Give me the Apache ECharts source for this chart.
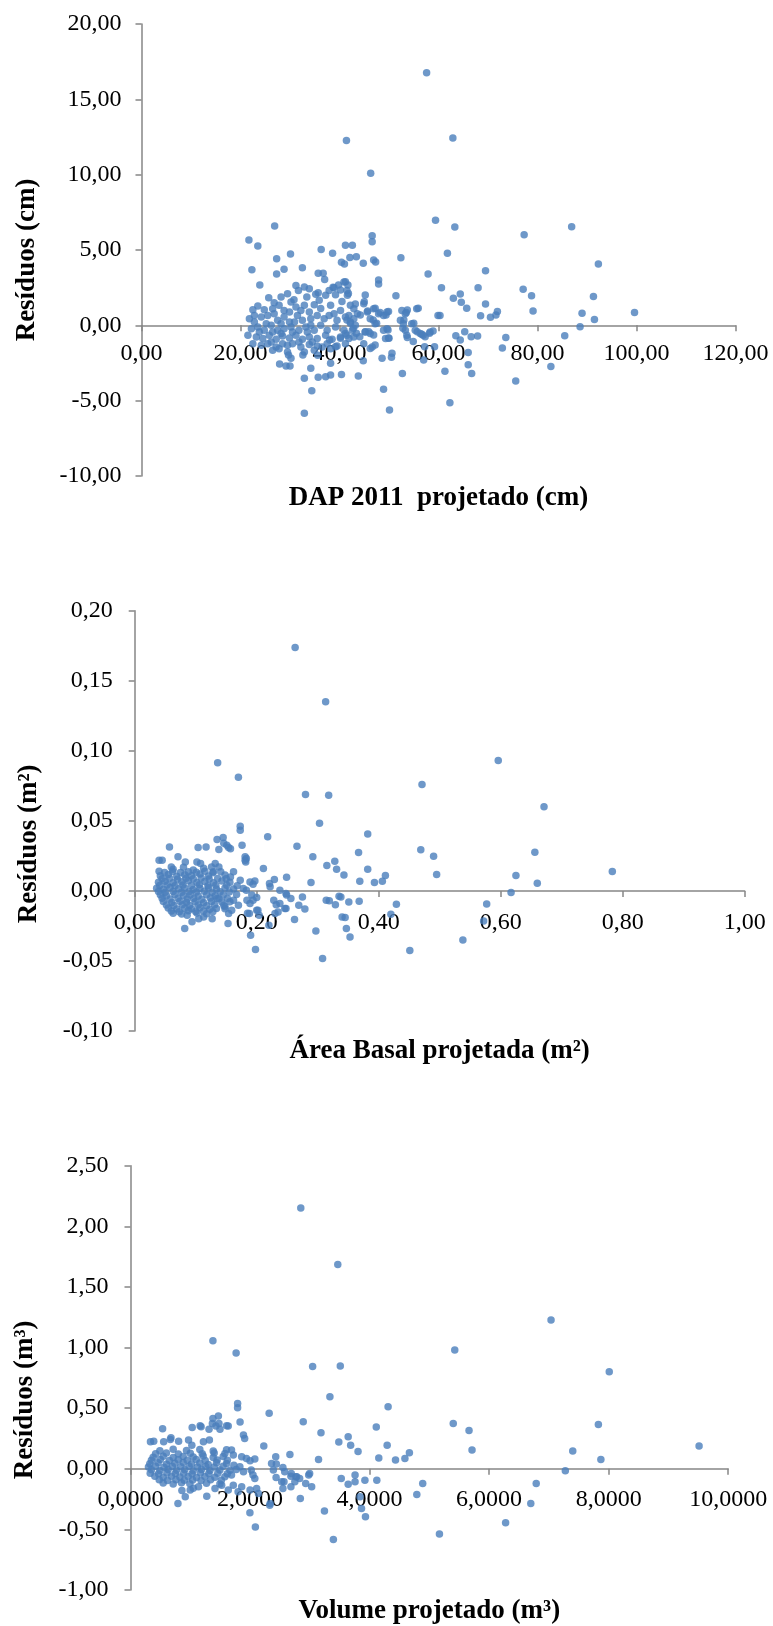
<!DOCTYPE html>
<html>
<head>
<meta charset="utf-8">
<script src="https://cdn.jsdelivr.net/npm/echarts@6.0.0/dist/echarts.min.js"></script>
<style>
  html, body { margin: 0; padding: 0; background: #fff; }
  #chart { width: 773px; height: 1626px; }
</style>
</head>
<body>
<div id="chart"></div>
<script>
// DAP 2011 projetado (cm) x resíduo (cm)
const dapPoints = [
  [57.6,16.77],[41.4,12.26],[62.9,12.43],[46.3,10.09],[59.4,6.97],[63.3,6.53],[26.9,6.59],[21.7,5.66],[77.3,6.02],[86.9,6.55],
  [23.5,5.27],[46.6,5.95],[46.6,5.55],[41.2,5.31],[42.6,5.31],[36.3,5.04],[38.6,4.78],[61.8,4.78],[52.4,4.49],[42.1,4.51],
  [43.4,4.56],[27.3,4.42],[30.1,4.73],[46.9,4.34],[47.3,4.20],[44.8,4.12],[40.4,4.18],[41.0,4.07],[92.3,4.07],[22.3,3.69],
  [28.8,3.72],[32.5,3.83],[27.3,3.41],[35.7,3.45],[36.7,3.45],[57.9,3.41],[69.5,3.63],[47.9,3.01],[47.9,2.74],[23.9,2.68],
  [60.6,2.50],[68.0,2.50],[77.1,2.39],[64.4,2.08],[63.0,1.79],[64.6,1.53],[65.7,1.13],[69.5,1.42],[78.8,1.97],[91.3,1.92],
  [79.1,0.95],[89.0,0.80],[99.6,0.86],[91.5,0.38],[88.6,-0.09],[85.5,-0.69],[82.7,-2.74],[75.6,-3.69],[73.6,-0.80],[72.9,-1.50],
  [71.9,0.91],[70.5,0.53],[71.6,0.69],[68.5,0.64],[67.9,-0.71],[66.6,-0.75],[65.3,-0.42],[64.4,-0.97],[63.5,-0.69],[66.0,-1.81],
  [66.0,-2.61],[66.7,-3.19],[61.3,-3.05],[62.3,-5.13],[60.3,0.66],[55.9,1.13],[58.9,-0.38],[58.2,-0.53],[57.3,-0.75],[56.6,-0.60],
  [55.7,-0.42],[55.0,0.13],[53.0,0.35],[53.5,0.86],[53.7,1.02],[52.8,-0.20],[53.7,-0.80],[54.9,-1.08],[57.2,-1.42],[59.2,-1.42],
  [57.0,-2.30],[52.7,-3.19],[50.1,-5.62],[48.9,-4.25],[48.6,-2.19],[50.6,-1.86],[50.5,-2.12],[50.0,-0.86],[49.8,-0.31],[49.4,0.69],
  [49.9,0.91],[51.4,1.97],[48.2,0.86],[47.2,1.13],[45.7,0.95],[45.2,2.01],[45.0,1.57],[46.8,0.35],[46.9,-0.64],[45.9,-0.42],
  [45.2,-0.42],[47.2,-1.31],[46.2,-1.53],[44.8,-2.35],[43.8,-3.36],[47.5,0.13],[44.1,-0.75],[43.4,-0.53],[44.2,0.69],[43.2,1.42],
  [41.8,2.12],[41.2,2.90],[41.7,2.68],[39.8,2.68],[38.7,2.52],[40.2,2.35],[41.5,0.35],[42.2,0.13],[42.8,-0.20],[40.4,-3.27],
  [38.2,-3.30],[38.2,-2.52],[37.2,-3.41],[35.7,-3.45],[34.4,-4.34],[32.9,-5.84],[32.9,-3.52],[34.2,-2.85],[30.0,-2.70],[29.2,-2.70],
  [27.9,-2.57],[30.2,-2.19],[29.7,-1.97],[32.6,-1.97],[35.6,-1.99],[39.2,-1.42],[40.2,-0.86],[38.0,-0.97],
  [25.7,1.83],[29.5,2.10],[31.2,2.65],[32.9,2.54],[33.9,2.43],[31.7,2.32],[35.2,2.06],[35.7,2.17],[38.9,2.50],[39.2,2.03],
  [40.9,2.87],[41.5,2.32],[40.5,1.59],[37.0,3.05],[22.5,1.04],[23.5,1.28],[24.8,1.04],[26.8,1.50],[27.8,1.33],[28.8,0.99],
  [30.8,1.70],[31.2,1.22],[32.9,1.33],[33.9,0.88],[34.9,1.37],[36.2,1.11],[38.2,1.33],[38.9,0.77],[40.2,0.99],[21.8,0.44],
  [22.8,0.22],[24.2,0.55],[25.5,0.66],[26.8,0.77],[27.5,0.33],[28.8,0.55],[29.9,0.22],[31.5,0.66],[32.5,0.33],[34.2,0.44],
  [35.5,0.66],[36.9,0.44],[37.9,0.66],[39.5,0.33],[41.2,0.55],[22.2,-0.22],[23.5,-0.11],[24.8,-0.33],[26.2,0.00],[27.5,-0.33],
  [28.8,-0.22],[30.2,-0.11],[31.8,-0.33],[33.2,-0.11],[34.9,-0.33],[36.2,0.00],[37.5,-0.33],[39.2,-0.11],[40.9,-0.33],[21.5,-0.66],
  [23.2,-0.77],[24.5,-0.88],[25.8,-0.66],[27.2,-0.93],[28.5,-0.71],[29.9,-0.84],[31.2,-0.66],[32.5,-0.93],[33.9,-0.77],[35.5,-0.88],
  [37.2,-0.66],[38.5,-0.93],[40.2,-0.77],[41.5,-0.66],[22.5,-1.22],[24.2,-1.33],[25.5,-1.22],[27.2,-1.44],[28.5,-1.22],[30.5,-1.22],
  [32.2,-1.44],[33.9,-1.28],[35.5,-1.37],[37.5,-1.22],[39.5,-1.37],[41.2,-1.22],[26.5,-1.66],[27.8,-1.55],[29.5,-1.77],[32.9,-1.77],
  [34.9,-1.66],[38.2,-1.55],[23.8,-0.44],[26.5,-0.44],[28.2,-0.55],[30.5,-0.44],[25.2,0.11],[28.2,0.11],[30.9,0.22],[33.5,-0.44],
  [34.2,0.00],[22.8,0.66],[26.2,-1.10],[29.5,-1.33],[31.8,-1.10],[34.5,-1.10],[36.5,-1.44],[26.5,1.10],[29.9,0.88],[32.2,0.99],
  [35.9,1.66],[37.2,1.99],[33.4,1.88],[30.2,1.55],[28.2,1.88],[37.9,2.32],
  [41.6,1.99],[42.2,1.33],[42.9,1.10],[43.6,0.77],[41.9,0.66],[42.9,0.44],[42.2,0.22],[43.2,0.00],[42.6,-0.33],[41.2,-0.55],
  [41.9,-0.88],[42.9,-0.77],[44.9,1.44],[45.6,0.88],[46.9,1.10],[47.9,0.77],[48.9,0.66],[49.6,0.88],[46.2,0.44],[47.2,0.11],
  [45.2,-0.44],[46.2,-0.55],[44.9,-1.22],[46.6,-1.44],[48.9,-0.33],[49.6,-0.22],[49.3,-0.88],[49.9,-0.84],[52.6,0.99],[53.3,0.77],
  [52.3,0.33],[52.9,0.11],[54.6,0.11],[53.3,-0.33],[53.6,-0.66],[55.3,-0.33],[56.3,-0.55],[56.9,-0.66],[58.3,-0.44],[55.6,1.10],
  [59.9,0.66]
];

// Área basal projetada (m²) x resíduo (m²)
const areaPoints = [
  [0.263,0.1738],[0.313,0.135],[0.136,0.0914],[0.596,0.0931],[0.170,0.0812],[0.471,0.0760],[0.280,0.0688],[0.318,0.0683],[0.671,0.0600],[0.303,0.0483],
  [0.173,0.0462],[0.173,0.0433],[0.382,0.0407],[0.218,0.0386],[0.145,0.0381],[0.135,0.0367],[0.176,0.0326],[0.266,0.0319],[0.151,0.0326],[0.469,0.0293],
  [0.367,0.0274],[0.656,0.0276],[0.292,0.0243],[0.490,0.0248],[0.328,0.0212],[0.315,0.0181],[0.331,0.0155],[0.382,0.0155],[0.343,0.0114],[0.495,0.0117],
  [0.411,0.0110],[0.625,0.0110],[0.783,0.0138],[0.369,0.0069],[0.393,0.0060],[0.406,0.0069],[0.660,0.0055],[0.289,0.0060],[0.617,-0.0012],[0.577,-0.0093],
  [0.572,-0.0214],[0.429,-0.0095],[0.420,-0.0167],[0.319,-0.0071],[0.338,-0.0043],[0.351,-0.0079],[0.368,-0.0074],[0.329,-0.0098],[0.345,-0.0190],[0.347,-0.0269],
  [0.353,-0.0329],[0.538,-0.0350],[0.451,-0.0426],[0.308,-0.0483],[0.297,-0.0286],[0.262,-0.0205],[0.198,-0.0419],[0.190,-0.0317],[0.279,-0.0129],[0.269,-0.0102],
  [0.275,-0.0043],[0.256,-0.0055],[0.248,-0.0019],[0.249,0.0098],[0.229,0.0081],[0.211,0.0160],[0.222,0.0029],[0.238,0.0005],[0.228,-0.0067],[0.238,-0.0090],
  [0.248,-0.0126],[0.235,-0.0150],[0.200,-0.0138],[0.204,-0.0174],[0.188,-0.0162],[0.183,0.0231],[0.182,0.0207],
  [0.221,0.0052],[0.189,0.0064],[0.197,0.0071],[0.194,0.0048],[0.183,0.0005],[0.249,-0.0030],[0.314,-0.0067],[0.335,-0.0038],[0.340,-0.0186],[0.192,-0.0030],
  [0.194,-0.0067],[0.200,-0.0048],[0.189,-0.0090],[0.202,-0.0138],[0.185,-0.0160],[0.232,-0.0098],[0.246,-0.0126],[0.230,-0.0162],[0.220,-0.0245],[0.181,0.0243],
  [0.181,0.0219],
  [0.057,0.0314],[0.040,0.0219],[0.045,0.0219],[0.071,0.0243],[0.104,0.0310],[0.117,0.0314],[0.138,0.0295],[0.146,0.0340],[0.154,0.0310],[0.157,0.0300],
  [0.083,0.0207],[0.102,0.0207],[0.108,0.0195],[0.132,0.0195],[0.138,0.0170],[0.129,0.0136],[0.162,0.0136],[0.157,0.0100],[0.082,-0.0269],[0.094,-0.0221],
  [0.113,-0.0186],[0.105,-0.0198],[0.127,-0.0198],[0.154,-0.0162],[0.086,-0.0174],[0.148,-0.0114],[0.159,-0.0138],[0.170,-0.0102],[0.135,-0.0055],[0.162,-0.0067],
  [0.173,0.0076],[0.178,0.0017],[0.184,-0.0067],[0.153,-0.0233],[0.040,0.0140],[0.060,0.0170],
  [0.063,0.0155],[0.080,0.0168],[0.096,0.0149],[0.113,0.0162],[0.126,0.0171],
  [0.042,0.0108],[0.055,0.0117],[0.069,0.0104],[0.082,0.0115],[0.093,0.0109],[0.107,0.0121],[0.121,0.0106],[0.148,0.0114],
  [0.039,0.0061],[0.050,0.0069],[0.063,0.0058],[0.077,0.0066],[0.088,0.0072],[0.102,0.0060],[0.115,0.0067],[0.129,0.0059],[0.143,0.0070],[0.156,0.0062],
  [0.036,0.0019],[0.047,0.0012],[0.058,0.0024],[0.072,0.0015],[0.082,0.0021],[0.096,0.0010],[0.107,0.0018],[0.121,0.0023],[0.134,0.0013],[0.148,0.0020],[0.162,0.0014],
  [0.042,-0.0028],[0.052,-0.0035],[0.066,-0.0026],[0.080,-0.0033],[0.091,-0.0029],[0.104,-0.0037],[0.118,-0.0027],[0.132,-0.0034],[0.145,-0.0030],[0.167,-0.0025],
  [0.047,-0.0076],[0.061,-0.0083],[0.074,-0.0074],[0.085,-0.0081],[0.099,-0.0077],[0.113,-0.0085],[0.126,-0.0075],[0.143,-0.0080],[0.156,-0.0078],
  [0.055,-0.0122],[0.069,-0.0130],[0.082,-0.0124],[0.093,-0.0128],[0.107,-0.0121],[0.123,-0.0131],[0.134,-0.0125],[0.148,-0.0127],
  [0.063,-0.0160],[0.077,-0.0165],[0.102,-0.0158],[0.118,-0.0163],
  [0.049,0.0132],[0.062,0.0139],[0.075,0.0131],[0.088,0.0137],[0.101,0.0134],[0.115,0.0140],[0.128,0.0130],[0.141,0.0136],
  [0.045,0.0086],[0.057,0.0091],[0.070,0.0084],[0.084,0.0090],[0.096,0.0087],[0.109,0.0092],[0.122,0.0085],[0.136,0.0089],[0.150,0.0086],
  [0.041,0.0038],[0.053,0.0043],[0.066,0.0037],[0.079,0.0042],[0.093,0.0039],[0.106,0.0044],[0.120,0.0036],[0.133,0.0041],[0.151,0.0040],[0.168,0.0037],
  [0.039,-0.0005],[0.050,-0.0009],[0.063,-0.0004],[0.077,-0.0010],[0.089,-0.0006],[0.101,-0.0008],[0.114,-0.0003],[0.127,-0.0009],[0.140,-0.0006],[0.155,-0.0008],
  [0.045,-0.0053],[0.058,-0.0058],[0.071,-0.0052],[0.086,-0.0057],[0.097,-0.0054],[0.110,-0.0059],[0.124,-0.0051],[0.138,-0.0056],[0.152,-0.0054],
  [0.052,-0.0100],[0.064,-0.0105],[0.078,-0.0099],[0.090,-0.0104],[0.104,-0.0101],[0.118,-0.0106],[0.131,-0.0098],[0.146,-0.0103],
  [0.060,-0.0143],[0.073,-0.0148],[0.088,-0.0142],[0.100,-0.0147],[0.113,-0.0144],[0.128,-0.0149]
];

// Volume projetado (m³) x resíduo (m³)
const volPoints = [
  [2.849,2.151],[3.468,1.686],[1.379,1.056],[7.036,1.227],[5.425,0.979],[1.767,0.954],[3.047,0.844],[3.510,0.847],[8.010,0.800],[3.336,0.594],
  [4.310,0.512],[1.792,0.539],[1.792,0.503],[2.320,0.457],[1.379,0.415],[1.470,0.435],[2.890,0.388],[1.833,0.385],[5.400,0.374],[7.828,0.366],
  [1.635,0.352],[1.429,0.352],[4.112,0.344],[1.032,0.341],[1.181,0.347],[5.664,0.316],[3.187,0.297],[0.537,0.330],[3.642,0.264],[3.485,0.220],
  [4.294,0.195],[3.683,0.193],[9.513,0.187],[2.230,0.187],[5.714,0.154],[7.399,0.146],[3.807,0.143],[4.666,0.132],[2.667,0.118],[4.154,0.088],
  [4.591,0.085],[4.434,0.072],[3.146,0.077],[7.870,0.077],[7.275,-0.017],[6.788,-0.121],[4.889,-0.121],[4.790,-0.212],[4.121,-0.094],[3.922,-0.094],
  [3.757,-0.052],[3.757,-0.107],[3.642,-0.127],[3.526,-0.080],[3.840,-0.231],[3.865,-0.327],[3.931,-0.396],[3.394,-0.583],[3.245,-0.349],[5.169,-0.539],
  [6.276,-0.446],[6.697,-0.286],[2.841,-0.245],[2.931,-0.121],[3.031,-0.149],[2.981,-0.052],[2.997,-0.039],[2.766,-0.066],[2.684,-0.149],[2.568,-0.107],
  [2.337,-0.286],[2.089,-0.481],[1.998,-0.363],[2.684,-0.061],[2.436,-0.072],
  [0.677,0.256],[1.165,0.355],[1.370,0.374],[1.480,0.374],[1.608,0.355],[1.314,0.325],[1.497,0.325],[0.334,0.223],[0.389,0.228],[0.555,0.223],
  [0.666,0.242],[0.805,0.228],[0.971,0.237],[1.026,0.195],[1.220,0.223],[1.320,0.237],[0.794,-0.286],[0.916,-0.231],[0.999,-0.176],[1.137,-0.149],
  [1.276,-0.226],[1.414,-0.162],[1.525,-0.135],[1.636,-0.176],[0.860,-0.180],[1.050,-0.160],
  [0.491,0.148],[0.714,0.161],[0.937,0.151],[1.160,0.158],[1.384,0.146],[1.607,0.156],
  [0.379,0.095],[0.547,0.104],[0.714,0.092],[0.881,0.101],[1.049,0.097],[1.216,0.106],[1.384,0.094],[1.551,0.102],
  [0.323,0.041],[0.463,0.049],[0.602,0.038],[0.742,0.046],[0.881,0.052],[1.021,0.040],[1.160,0.047],[1.300,0.036],[1.439,0.050],[1.607,0.043],
  [0.351,-0.008],[0.491,-0.015],[0.630,-0.006],[0.770,-0.013],[0.909,-0.009],[1.049,-0.017],[1.188,-0.007],[1.328,-0.014],[1.495,-0.010],[1.663,-0.012],
  [0.407,-0.062],[0.547,-0.070],[0.686,-0.061],[0.826,-0.068],[0.965,-0.064],[1.105,-0.072],[1.244,-0.063],[1.412,-0.069],[1.579,-0.065],
  [0.547,-0.118],[0.714,-0.125],[0.853,-0.116],[0.993,-0.123],[1.272,-0.119],[1.495,-0.126],
  [0.420,0.124],[0.600,0.130],[0.800,0.121],[1.000,0.128],[1.200,0.123],[1.400,0.131],[1.580,0.125],
  [0.350,0.070],[0.500,0.076],[0.650,0.068],[0.800,0.074],[0.950,0.071],[1.100,0.077],[1.250,0.069],[1.450,0.073],[1.620,0.070],
  [0.300,0.015],[0.420,0.020],[0.560,0.013],[0.700,0.019],[0.840,0.016],[0.980,0.021],[1.120,0.014],[1.260,0.018],[1.400,0.015],[1.550,0.020],
  [0.330,-0.036],[0.470,-0.041],[0.610,-0.035],[0.750,-0.040],[0.890,-0.037],[1.030,-0.042],[1.170,-0.034],[1.310,-0.039],[1.460,-0.036],[1.620,-0.041],
  [0.480,-0.091],[0.620,-0.096],[0.760,-0.090],[0.900,-0.095],[1.040,-0.092],[1.180,-0.097],[1.340,-0.090],[1.520,-0.094],
  [1.890,0.278],[1.910,0.250],[1.690,0.154],[1.720,0.113],[1.860,0.099],[1.940,0.085],[2.000,0.066],[2.080,0.080],[2.430,0.099],[2.360,0.044],
  [2.440,0.039],[2.550,0.011],[2.390,-0.011],[2.580,-0.025],[2.690,-0.039],[2.780,-0.066],[2.750,-0.107],[2.830,-0.080],[1.730,0.030],[1.770,-0.006],
  [1.830,0.017],[1.890,-0.025],[2.020,-0.011],[2.050,-0.052],[2.080,-0.080],[1.690,-0.052],[2.000,-0.176],[2.110,-0.162],[2.140,-0.204],[2.530,-0.107],
  [2.550,-0.162],[2.330,-0.300],[1.720,-0.135],[1.800,-0.190],[1.860,-0.149]
];

// axis ranges: [min, max, interval]
const dapXRange = [0, 120, 20];
const dapYRange = [-10, 20, 5];
const areaXRange = [0, 1, 0.2];
const areaYRange = [-0.1, 0.2, 0.05];
const volXRange = [0, 10, 2];
const volYRange = [-1, 2.5, 0.5];

const axisGray = '#868686';
const serif = 'Liberation Serif';

const grids = [
  { left: 141.5, top: 24, width: 594, height: 452 },
  { left: 134.7, top: 610.7, width: 610, height: 420.3 },
  { left: 130.5, top: 1165.7, width: 597.7, height: 424.3 }
];

function comma(decimals) {
  return function (v) { return v.toFixed(decimals).replace('.', ','); };
}

// the x axis sits on the y = 0 line: shift it up from the grid bottom
function zeroOffset(grid, yRange) {
  return -grid.height * (0 - yRange[0]) / (yRange[1] - yRange[0]);
}

function xAxisOf(idx, range, yRange, decimals, name, gap, margin) {
  return {
    type: 'value', gridIndex: idx,
    min: range[0], max: range[1], interval: range[2],
    offset: zeroOffset(grids[idx], yRange),
    name: name, nameLocation: 'middle', nameGap: gap,
    nameTextStyle: { fontFamily: serif, fontSize: 27, fontWeight: 'bold', color: '#000' },
    axisLine: { onZero: false, lineStyle: { color: axisGray, width: 1.5 } },
    axisTick: { length: 6, lineStyle: { color: axisGray, width: 1.5 } },
    axisLabel: { fontFamily: serif, fontSize: 24, color: '#000', margin: margin, formatter: comma(decimals) },
    splitLine: { show: false }
  };
}

function yAxisOf(idx, range, name, gap, margin, shift) {
  return {
    type: 'value', gridIndex: idx,
    min: range[0], max: range[1], interval: range[2],
    name: name, nameLocation: 'middle', nameGap: gap, nameRotate: 90,
    nameTextStyle: { fontFamily: serif, fontSize: 27, fontWeight: 'bold', color: '#000', padding: [0, shift, 0, 0] },
    axisLine: { show: true, onZero: false, lineStyle: { color: axisGray, width: 1.5 } },
    axisTick: { show: true, length: 6, lineStyle: { color: axisGray, width: 1.5 } },
    axisLabel: { fontFamily: serif, fontSize: 24, color: '#000', margin: margin, formatter: comma(2) },
    splitLine: { show: false }
  };
}

function scatterOf(idx, data) {
  return {
    type: 'scatter', xAxisIndex: idx, yAxisIndex: idx,
    data: data, symbol: 'circle', symbolSize: 7.5,
    itemStyle: { color: '#4a7ebb' },
    emphasis: { disabled: true }
  };
}

const chart = echarts.init(document.getElementById('chart'), null, { renderer: 'canvas' });

chart.setOption({
  animation: false,
  backgroundColor: '#fff',
  grid: grids.map(function (g) { return Object.assign({ outerBoundsMode: 'none' }, g); }),
  xAxis: [
    xAxisOf(0, dapXRange, dapYRange, 2, 'DAP 2011  projetado (cm)', 159, 16),
    xAxisOf(1, areaXRange, areaYRange, 2, 'Área Basal projetada (m²)', 147, 20),
    xAxisOf(2, volXRange, volYRange, 4, 'Volume projetado (m³)', 129, 19)
  ],
  yAxis: [
    yAxisOf(0, dapYRange, 'Resíduos (cm)', 101, 20, 20),
    yAxisOf(1, areaYRange, 'Resíduos (m²)', 92, 22, 46),
    yAxisOf(2, volYRange, 'Resíduos (m³)', 92, 22, 44)
  ],
  series: [
    scatterOf(0, dapPoints),
    scatterOf(1, areaPoints),
    scatterOf(2, volPoints)
  ]
});
</script>
</body>
</html>
